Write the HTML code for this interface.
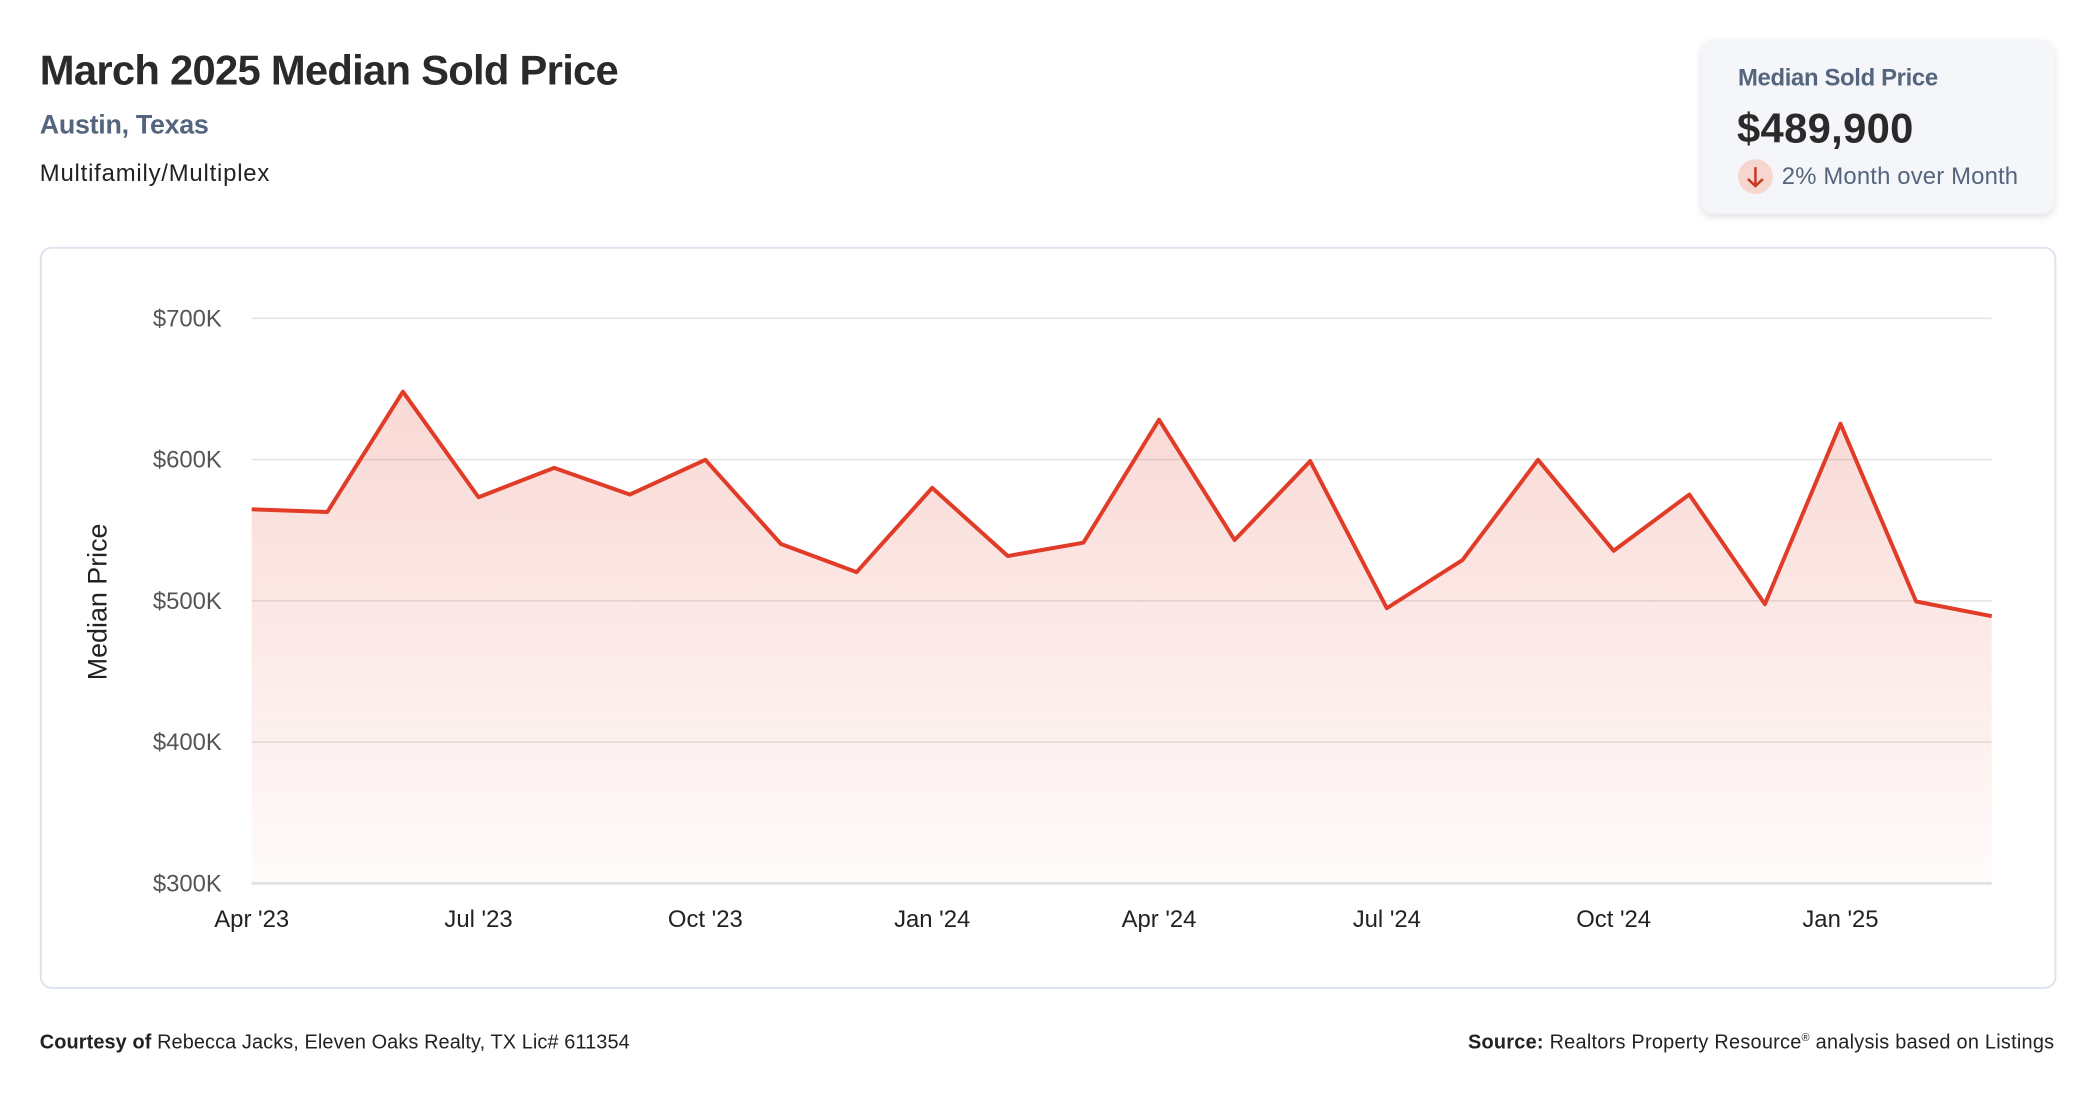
<!DOCTYPE html>
<html><head><meta charset="utf-8"><style>
body{margin:0;width:2096px;height:1100px;background:#fff;font-family:"Liberation Sans",sans-serif;overflow:hidden}
#w{position:absolute;left:0;top:0;width:2096px;height:1100px;transform:scale(0.99486);transform-origin:0 0}
.a{position:absolute;white-space:nowrap}
</style></head><body><div id="w">
<div class="a" style="left:40px;top:47px;font-size:42px;font-weight:bold;color:#2a2a2a;letter-spacing:-0.75px">March 2025 Median Sold Price</div>
<div class="a" style="left:40px;top:110px;font-size:27px;font-weight:bold;color:#54657d;letter-spacing:-0.3px">Austin, Texas</div>
<div class="a" style="left:40px;top:161px;font-size:24px;color:#222;letter-spacing:0.8px">Multifamily/Multiplex</div>

<div class="a" style="left:1710px;top:40px;width:355px;height:175px;background:#f5f6fa;border-radius:12px;box-shadow:0 3px 8px rgba(0,0,0,0.12)"></div>
<div class="a" style="left:1747px;top:65px;font-size:24px;font-weight:bold;color:#54657d;letter-spacing:-0.35px">Median Sold Price</div>
<div class="a" style="left:1746px;top:105px;font-size:42px;font-weight:bold;color:#2a2a2a;letter-spacing:0.3px">$489,900</div>
<div class="a" style="left:1747px;top:160px;width:35px;height:35px;border-radius:50%;background:#f7d6cf"></div>
<svg class="a" style="left:1747px;top:160px" width="35" height="35"><path d="M17.5 8 V27 M10 20 L17.5 27 L25 20" stroke="#c63a24" stroke-width="2.5" fill="none"/></svg>
<div class="a" style="left:1791px;top:164px;font-size:24px;color:#54657d;letter-spacing:0.15px">2% Month over Month</div>

<div class="a" style="left:40px;top:248px;width:2023px;height:742px;border:2px solid #dde3ee;border-radius:12px"></div>

<svg class="a" style="left:0;top:0" width="2096" height="1100">
<defs><linearGradient id="g" x1="0" y1="390" x2="0" y2="888" gradientUnits="userSpaceOnUse">
<stop offset="0" stop-color="#e03c28" stop-opacity="0.2"/><stop offset="1" stop-color="#e03c28" stop-opacity="0.02"/></linearGradient></defs>
<g stroke="#e2e2e2" stroke-width="1.5">
<line x1="253" x2="2002" y1="320" y2="320"/><line x1="253" x2="2002" y1="462" y2="462"/><line x1="253" x2="2002" y1="604" y2="604"/><line x1="253" x2="2002" y1="746" y2="746"/><line x1="253" x2="2002" y1="888" y2="888" stroke-width="3"/>
</g>
<path fill="url(#g)" d="M253,511.9 L329,514.6 L405,393.7 L481,499.8 L557,470.3 L633,497.1 L709,462.2 L785,546.8 L861,575.1 L937,490.4 L1013,558.9 L1089,545.5 L1165,421.9 L1241,542.8 L1317,463.5 L1394,611.3 L1470,563 L1546,462.2 L1622,553.6 L1698,497.1 L1774,607.3 L1850,425.9 L1926,604.6 L2002,619.4 L2002,888 L253,888 Z"/>
<polyline fill="none" stroke="#e03c28" stroke-width="4" stroke-linejoin="round" points="253,511.9 329,514.6 405,393.7 481,499.8 557,470.3 633,497.1 709,462.2 785,546.8 861,575.1 937,490.4 1013,558.9 1089,545.5 1165,421.9 1241,542.8 1317,463.5 1394,611.3 1470,563 1546,462.2 1622,553.6 1698,497.1 1774,607.3 1850,425.9 1926,604.6 2002,619.4"/>
<g font-family="Liberation Sans, sans-serif" font-size="24" fill="#555" text-anchor="end">
<text x="223" y="328">$700K</text><text x="223" y="470">$600K</text><text x="223" y="612">$500K</text><text x="223" y="754">$400K</text><text x="223" y="896">$300K</text>
</g>
<g font-family="Liberation Sans, sans-serif" font-size="24" fill="#222" text-anchor="middle">
<text x="253" y="932">Apr '23</text><text x="481" y="932">Jul '23</text><text x="709" y="932">Oct '23</text><text x="937" y="932">Jan '24</text><text x="1165" y="932">Apr '24</text><text x="1394" y="932">Jul '24</text><text x="1622" y="932">Oct '24</text><text x="1850" y="932">Jan '25</text>
</g>
<text transform="translate(107,605) rotate(-90)" text-anchor="middle" font-family="Liberation Sans, sans-serif" font-size="27" fill="#222">Median Price</text>
</svg>

<div class="a" style="left:40px;top:1037px;font-size:20px;color:#222;letter-spacing:0.1px"><b>Courtesy of</b> Rebecca Jacks, Eleven Oaks Realty, TX Lic# 611354</div>
<div class="a" style="right:31px;top:1037px;font-size:20px;color:#222;letter-spacing:0.25px"><b>Source:</b> Realtors Property Resource<sup style="font-size:11px">®</sup> analysis based on Listings</div>
</div></body></html>
